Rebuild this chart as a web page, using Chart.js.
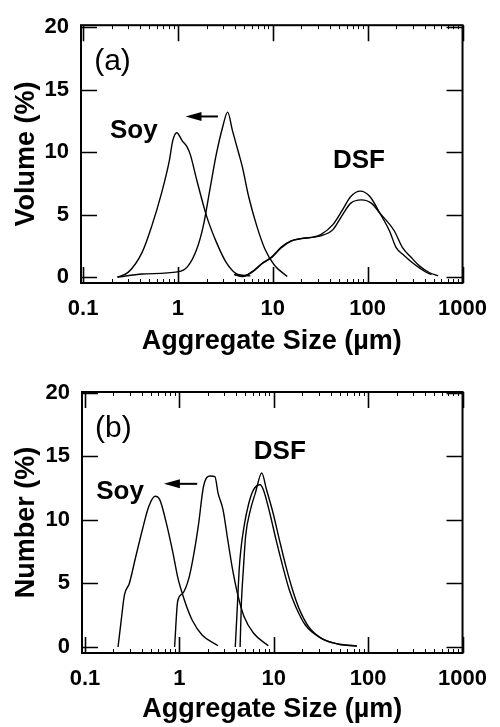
<!DOCTYPE html>
<html>
<head>
<meta charset="utf-8">
<script src="https://cdn.jsdelivr.net/npm/chart.js@4.4.1/dist/chart.umd.min.js"></script>
<style>
  body { margin: 0; background: #fff; }
  canvas { display: block; }
</style>
</head>
<body>
<canvas id="volumeChart" width="500" height="360"></canvas>
<canvas id="numberChart" width="500" height="367"></canvas>
<script>
// axis ticks
var sizeTicks = [0.1, 1, 10, 100, 1000];
var pctTicks = [0, 5, 10, 15, 20];

// (a) volume distribution
var volSoySize1 = [0.23, 0.30, 0.42, 0.53, 0.67, 0.81, 0.88, 0.97, 1.11, 1.25, 1.35, 1.58, 2.0, 2.54, 3.21, 4.06, 4.78, 5.8];
var volSoyPct1  = [0.0, 0.4, 2.0, 4.1, 6.7, 9.3, 10.9, 11.55, 10.9, 10.4, 9.8, 7.75, 4.9, 2.8, 1.2, 0.3, 0.15, 0.1];
var volSoySize2 = [0.23, 0.42, 0.99, 1.25, 1.58, 1.85, 2.17, 2.54, 2.97, 3.34, 3.76, 4.39, 4.78, 5.56, 6.77, 8.25, 10.4, 14.2];
var volSoyPct2  = [0.0, 0.25, 0.42, 0.8, 2.25, 4.1, 7.0, 9.85, 12.05, 13.2, 11.7, 9.85, 8.8, 6.45, 4.1, 2.25, 0.95, 0.05];
var volDsfSize1 = [3.9, 4.7, 6.0, 7.6, 9.7, 12.2, 15.5, 19.6, 26.8, 32, 43, 54.5, 66, 83.6, 106, 134, 170, 199, 242, 306, 400, 470];
var volDsfPct1  = [0.2, 0.05, 0.42, 1.07, 1.6, 2.38, 2.9, 3.08, 3.2, 3.4, 4.2, 5.4, 6.43, 6.88, 6.43, 5.13, 3.69, 2.38, 1.73, 1.07, 0.45, 0.2];
var volDsfSize2 = [4.0, 4.8, 6.1, 7.7, 9.8, 12.4, 15.8, 20, 27, 32, 43, 54.5, 66, 86, 110, 134, 191, 232, 290, 350, 450, 553];
var volDsfPct2  = [0.2, 0.05, 0.42, 1.07, 1.6, 2.38, 2.9, 3.08, 3.2, 3.3, 3.8, 5.0, 5.9, 6.18, 5.9, 5.13, 3.69, 2.38, 1.55, 0.9, 0.35, 0.1];

// (b) number distribution
var numSoySize1 = [0.224, 0.242, 0.262, 0.295, 0.345, 0.405, 0.474, 0.554, 0.623, 0.73, 0.855, 0.96, 1.13, 1.37, 1.74, 2.57];
var numSoyPct1  = [0.0, 2.1, 4.1, 5.0, 7.1, 9.2, 11.05, 11.85, 11.55, 9.7, 7.4, 5.5, 3.7, 2.1, 0.95, 0.1];
var numSoySize2 = [0.89, 0.96, 1.08, 1.27, 1.43, 1.6, 1.8, 2.12, 2.38, 2.57, 2.9, 3.26, 3.67, 4.13, 4.84, 6.12, 8.76];
var numSoyPct2  = [0.0, 3.6, 4.2, 5.5, 7.4, 9.7, 12.6, 13.45, 13.4, 12.1, 10.8, 8.4, 6.06, 4.2, 2.4, 1.08, 0.1];
var numDsfSize1 = [3.91, 4.13, 4.3, 4.48, 4.84, 5.44, 6.1, 7.18, 7.76, 9.1, 10.6, 12.5, 14.6, 17.1, 21.6, 32, 47.6, 76];
var numDsfPct1  = [0.0, 3.44, 6.06, 7.64, 9.47, 11.3, 12.36, 12.76, 12.36, 10.5, 8.4, 6.3, 4.5, 3.17, 1.73, 0.68, 0.24, 0.08];
var numDsfSize2 = [4.4, 4.54, 4.76, 5.03, 5.67, 6.38, 7.46, 8.39, 9.86, 11.5, 13.5, 15.8, 18.5, 23.4, 32, 47.6, 76];
var numDsfPct2  = [0.0, 3.44, 6.06, 8.69, 10.8, 12.1, 13.68, 12.36, 10.5, 8.4, 6.3, 4.5, 3.04, 1.6, 0.68, 0.24, 0.08];

var FONT = '"Liberation Sans", Arial, Helvetica, sans-serif';

function curve(sizes, pcts) {
    return {
        data: sizes.map(function(s, i) { return {x: s, y: pcts[i]}; }),
        borderColor: '#000',
        borderWidth: 1.4,
        pointRadius: 0,
        fill: false,
        cubicInterpolationMode: 'monotone'
    };
}

// frame, inward ticks and the in-plot labels
var framePlugin = {
    id: 'frame',
    afterDatasetsDraw: function(chart) {
        var ctx = chart.ctx, a = chart.chartArea;
        var xs = chart.scales.x, ys = chart.scales.y;
        var notes = chart.options.plugins.frame;
        ctx.save();
        ctx.strokeStyle = '#000';
        ctx.lineWidth = 2;
        ctx.strokeRect(a.left, a.top, a.right - a.left, a.bottom - a.top);

        ctx.lineWidth = 1.6;
        ctx.beginPath();
        sizeTicks.forEach(function(v) {
            var px = Math.round(xs.getPixelForValue(v)) + 0.5;
            ctx.moveTo(px, a.bottom); ctx.lineTo(px, a.bottom - 16);
            ctx.moveTo(px, a.top); ctx.lineTo(px, a.top + 16);
        });
        pctTicks.forEach(function(v) {
            var py = Math.round(ys.getPixelForValue(v)) + 0.5;
            ctx.moveTo(a.left, py); ctx.lineTo(a.left + 16, py);
            ctx.moveTo(a.right, py); ctx.lineTo(a.right - 16, py);
        });
        ctx.stroke();

        // minor decade ticks
        ctx.lineWidth = 1;
        ctx.beginPath();
        [0.1, 1, 10, 100].forEach(function(d) {
            for (var m = 2; m < 10; m++) {
                var px = Math.round(xs.getPixelForValue(d * m)) + 0.5;
                ctx.moveTo(px, a.bottom); ctx.lineTo(px, a.bottom - 4);
                ctx.moveTo(px, a.top); ctx.lineTo(px, a.top + 4);
            }
        });
        ctx.stroke();

        ctx.fillStyle = '#000';
        ctx.textAlign = 'center';
        ctx.textBaseline = 'middle';
        notes.texts.forEach(function(t) {
            ctx.font = t.font;
            ctx.fillText(t.text, xs.getPixelForValue(t.x), ys.getPixelForValue(t.y));
        });

        // shift arrow
        var ar = notes.arrow;
        var x1 = xs.getPixelForValue(ar.from), x2 = xs.getPixelForValue(ar.to);
        var y = ys.getPixelForValue(ar.y);
        ctx.lineWidth = 2;
        ctx.beginPath();
        ctx.moveTo(x1, y); ctx.lineTo(x2 + 10, y);
        ctx.stroke();
        ctx.beginPath();
        ctx.moveTo(x2, y);
        ctx.lineTo(x2 + 16, y - 4.5);
        ctx.lineTo(x2 + 16, y + 4.5);
        ctx.closePath();
        ctx.fill();
        ctx.restore();
    }
};

function makeChart(id, cfg) {
    var canvas = document.getElementById(id);
    var W = canvas.width, H = canvas.height;
    var area = cfg.area;
    var tickFont = {family: FONT, size: 22, weight: 'bold'};
    var titleFont = {family: FONT, size: 27, weight: 'bold'};

    return new Chart(canvas.getContext('2d'), {
        type: 'line',
        data: { datasets: cfg.datasets },
        options: {
            responsive: false,
            animation: false,
            layout: { padding: { top: area.top, right: W - area.right, left: 0, bottom: 0 } },
            plugins: {
                legend: { display: false },
                tooltip: { enabled: false },
                frame: cfg.notes
            },
            scales: {
                x: {
                    type: 'logarithmic',
                    min: cfg.xMin,
                    max: 1000,
                    grid: { display: false, drawTicks: false },
                    border: { display: false },
                    afterBuildTicks: function(s) {
                        s.ticks = sizeTicks.map(function(v) { return {value: v}; });
                    },
                    afterFit: function(s) { s.height = H - area.bottom; },
                    ticks: {
                        color: '#000',
                        font: tickFont,
                        padding: 13,
                        maxRotation: 0,
                        autoSkip: false,
                        callback: function(v) { return String(v); }
                    },
                    title: {
                        display: true,
                        text: 'Aggregate Size (\u00b5m)',
                        color: '#000',
                        font: titleFont,
                        padding: { top: 0, bottom: cfg.xTitlePad }
                    }
                },
                y: {
                    type: 'linear',
                    min: -0.47,
                    max: cfg.yMax,
                    grid: { display: false, drawTicks: false },
                    border: { display: false },
                    afterBuildTicks: function(s) {
                        s.ticks = pctTicks.map(function(v) { return {value: v}; });
                    },
                    afterFit: function(s) { s.width = area.left; },
                    ticks: { color: '#000', font: tickFont, padding: 12 },
                    title: {
                        display: true,
                        text: cfg.yTitle,
                        color: '#000',
                        font: titleFont,
                        padding: { top: 10, bottom: 0 }
                    }
                }
            }
        },
        plugins: [framePlugin]
    });
}

var bold = 'bold 26px ' + FONT;
var plain = '30px ' + FONT;

makeChart('volumeChart', {
    area: { left: 81, right: 474, top: 20, bottom: 283 },
    xMin: 0.095,
    yMax: 20.15,
    yTitle: 'Volume (%)',
    xTitlePad: 2,
    datasets: [
        curve(volSoySize1, volSoyPct1),
        curve(volSoySize2, volSoyPct2),
        curve(volDsfSize1, volDsfPct1),
        curve(volDsfSize2, volDsfPct2)
    ],
    notes: {
        texts: [
            { text: '(a)', x: 0.204, y: 17.2, font: plain },
            { text: 'Soy', x: 0.342, y: 11.7, font: bold },
            { text: 'DSF', x: 81, y: 9.3, font: bold }
        ],
        arrow: { from: 2.64, to: 1.2, y: 12.85 }
    }
});

makeChart('numberChart', {
    area: { left: 82, right: 475, top: 32, bottom: 293 },
    xMin: 0.093,
    yMax: 20.05,
    yTitle: 'Number (%)',
    xTitlePad: 1,
    datasets: [
        curve(numSoySize1, numSoyPct1),
        curve(numSoySize2, numSoyPct2),
        curve(numDsfSize1, numDsfPct1),
        curve(numDsfSize2, numDsfPct2)
    ],
    notes: {
        texts: [
            { text: '(b)', x: 0.2, y: 17.2, font: plain },
            { text: 'Soy', x: 0.235, y: 12.2, font: bold },
            { text: 'DSF', x: 11.6, y: 15.35, font: bold }
        ],
        arrow: { from: 1.545, to: 0.685, y: 12.83 }
    }
});
</script>
</body>
</html>
